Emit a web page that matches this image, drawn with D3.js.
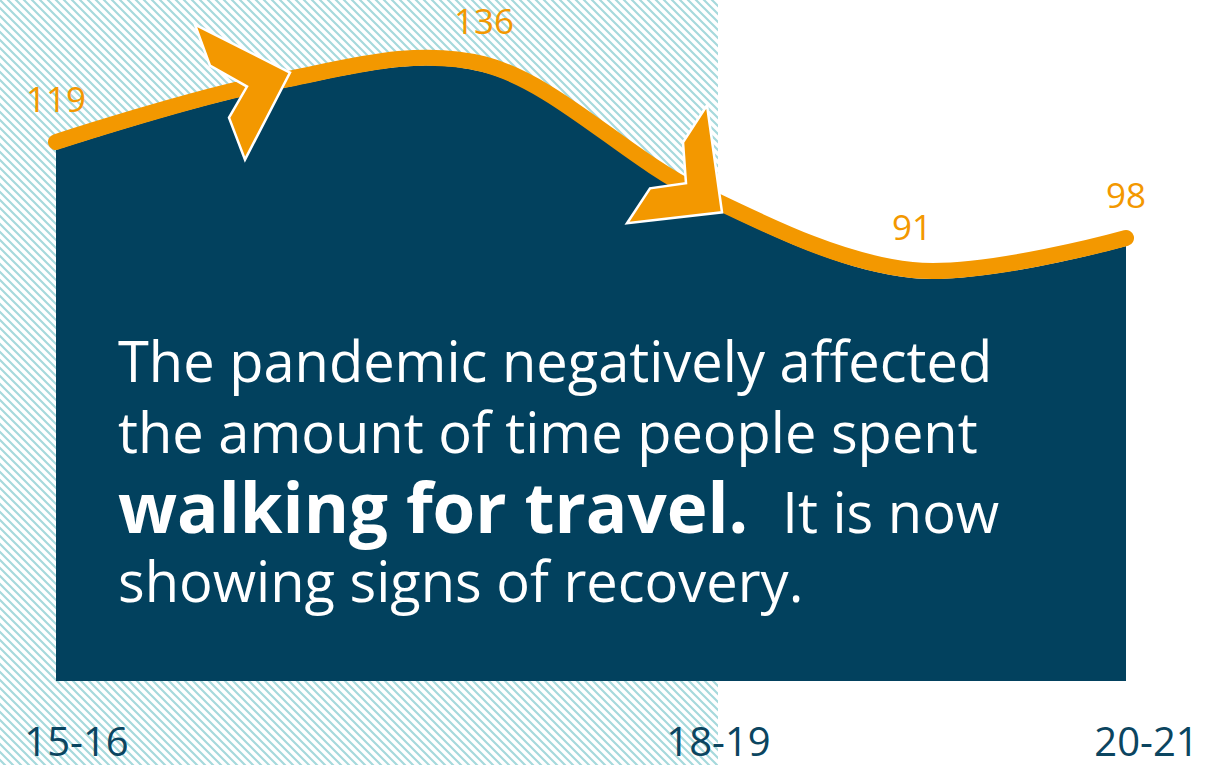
<!DOCTYPE html>
<html>
<head>
<meta charset="utf-8">
<script src="https://cdn.jsdelivr.net/npm/d3@7"></script>
<style>
  html, body { margin: 0; padding: 0; background: #fff; }
  svg { display: block; font-family: 'Open Sans', 'Noto Sans', sans-serif; }
</style>
</head>
<body>
<svg id="chart" width="1229" height="765"></svg>
<script>
// Time spent walking for travel (minutes per week), by year
var years = ['15-16', '16-17', '17-18', '18-19', '19-20', '20-21'];
var minutes = [119, 132, 136, 108, 91, 98];
var labelled = ['15-16', '17-18', '19-20', '20-21'];
var tickLabels = ['15-16', '18-19', '20-21'];
var pastUntil = '18-19';
var arrowAt = ['16-17', '18-19'];
var message = [
  'The pandemic negatively affected',
  'the amount of time people spent'
];
var messageBold = 'walking for travel.';
var messageTail = 'It is now';
var messageLast = 'showing signs of recovery.';

var navy = '#02415e';
var orange = '#f39800';
var hatch = '#a6d9dc';

var svg = d3.select('#chart');
var width = +svg.attr('width');
var height = +svg.attr('height');

var data = years.map(function(y, i) { return {year: y, value: minutes[i]}; });

var x = d3.scalePoint().domain(years).range([56, 1126]);
var y = d3.scaleLinear().domain([0, 140]).range([694, 54]);
var areaBottom = 681;
var lineLift = 8;
var curve = d3.curveCardinal.tension(0);

/*
 * Hatched background for the pre-pandemic years
 */
var defs = svg.append('defs');
var pattern = defs.append('pattern')
  .attr('id', 'hatch')
  .attr('patternUnits', 'userSpaceOnUse')
  .attr('width', 8)
  .attr('height', 8);
pattern.append('path')
  .attr('d', 'M-2,-2 L10,10 M-2,6 L2,10 M6,-2 L10,2')
  .attr('stroke', hatch)
  .attr('stroke-width', 2.2);

svg.append('rect')
  .attr('x', 0)
  .attr('y', 0)
  .attr('width', x(pastUntil) + 20)
  .attr('height', height)
  .attr('fill', 'url(#hatch)');

/*
 * Area and line
 */
var area = d3.area()
  .x(function(d) { return x(d.year); })
  .y0(areaBottom)
  .y1(function(d) { return y(d.value); })
  .curve(curve);

var line = d3.line()
  .x(function(d) { return x(d.year); })
  .y(function(d) { return y(d.value) - lineLift; })
  .curve(curve);

svg.append('path')
  .datum(data)
  .attr('class', 'area')
  .attr('d', area)
  .attr('fill', navy);

svg.append('path')
  .datum(data)
  .attr('class', 'line')
  .attr('d', line)
  .attr('fill', 'none')
  .attr('stroke', orange)
  .attr('stroke-width', 16)
  .attr('stroke-linecap', 'round');

// Chevron arrows along the line (shape relative to the tip)
var arrowShapes = [
  {dx: 20, dy: -18, pts: [[0, 0], [-95, -48], [-80, -7], [-43, 14], [-61, 45], [-45, 87]]},
  {dx: 24, dy: 12, pts: [[0, 0], [-15, -107], [-39, -70], [-36, -29], [-72, -24], [-95, 11]]}
];

svg.selectAll('.arrow')
  .data(arrowAt)
  .enter().append('path')
  .attr('class', 'arrow')
  .attr('transform', function(d, i) {
    var v = minutes[years.indexOf(d)];
    return 'translate(' + (x(d) + arrowShapes[i].dx) + ',' + (y(v) + arrowShapes[i].dy) + ')';
  })
  .attr('d', function(d, i) { return 'M' + arrowShapes[i].pts.join('L') + 'Z'; })
  .attr('fill', orange)
  .attr('stroke', '#fff')
  .attr('stroke-width', 2.5)
  .attr('stroke-linejoin', 'miter');

/*
 * Value labels
 */
svg.selectAll('.value')
  .data(data.filter(function(d) { return labelled.indexOf(d.year) > -1; }))
  .enter().append('text')
  .attr('class', 'value')
  .attr('x', function(d) { return x(d.year); })
  .attr('y', function(d) { return y(d.value) - 38; })
  .attr('text-anchor', 'middle')
  .attr('fill', orange)
  .attr('font-size', 35)
  .text(function(d) { return d.value; });

/*
 * Year axis
 */
var axis = svg.append('g')
  .attr('class', 'axis axis--x')
  .attr('transform', 'translate(20, 0)')
  .call(d3.axisBottom(x).tickValues(tickLabels).tickSize(0));
axis.select('.domain').remove();
axis.selectAll('text')
  .attr('y', 756)
  .attr('dy', 0)
  .attr('fill', '#0b4560')
  .attr('font-size', 40)
  .attr('font-family', "'Open Sans', sans-serif");

/*
 * Message inside the area
 */
var msg = svg.append('g')
  .attr('class', 'message')
  .attr('fill', '#fff');

msg.selectAll('.msg-line')
  .data(message)
  .enter().append('text')
  .attr('class', 'msg-line')
  .attr('x', 118)
  .attr('y', function(d, i) { return 382 + i * 71; })
  .attr('font-size', 56)
  .text(function(d) { return d; });

var third = msg.append('text')
  .attr('x', 118)
  .attr('y', 533);
third.append('tspan')
  .attr('font-size', 69)
  .attr('font-weight', 700)
  .text(messageBold);
third.append('tspan')
  .attr('dx', 34)
  .attr('font-size', 56)
  .text(messageTail);

msg.append('text')
  .attr('x', 118)
  .attr('y', 602)
  .attr('font-size', 56)
  .text(messageLast);
</script>
</body>
</html>
